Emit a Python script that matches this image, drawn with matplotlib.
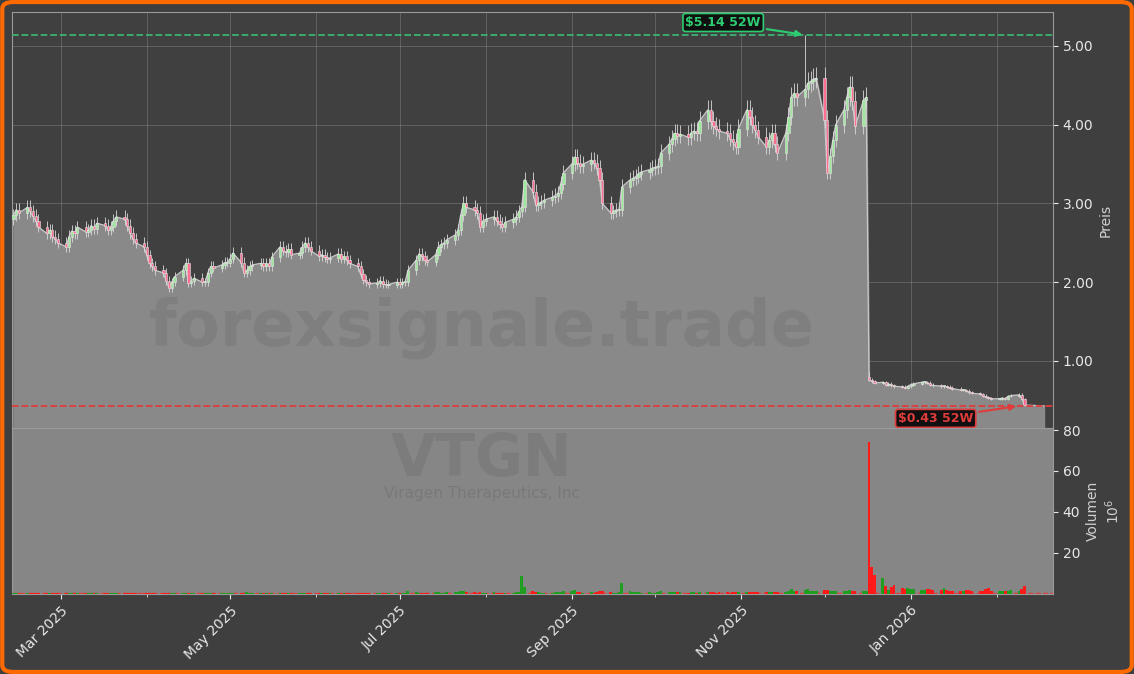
import numpy as np
import pandas as pd
import matplotlib
matplotlib.use("Agg")
import matplotlib.pyplot as plt
import matplotlib.dates as mdates
from matplotlib.patches import FancyBboxPatch

# Tagesschlusskurse (Geschäftstage ab 12.02.2025)
closes = [
    2.85, 2.92, 2.88, 2.95, 2.90, 2.84, 2.78, 2.70, 2.62, 2.66,
    2.58, 2.55, 2.50, 2.45, 2.58, 2.65, 2.62, 2.70, 2.64, 2.66,
    2.72, 2.68, 2.75, 2.72, 2.66, 2.70, 2.78, 2.83, 2.80, 2.72,
    2.62, 2.55, 2.50, 2.45, 2.34, 2.24, 2.20, 2.15, 2.12, 2.02,
    1.93, 2.00, 2.07, 2.15, 2.24, 1.99, 2.02, 2.05, 2.00, 2.00,
    2.12, 2.20, 2.18, 2.22, 2.25, 2.25, 2.30, 2.37, 2.25, 2.12,
    2.15, 2.20, 2.22, 2.24, 2.20, 2.24, 2.20, 2.32, 2.45, 2.40,
    2.38, 2.42, 2.35, 2.37, 2.45, 2.50, 2.45, 2.40, 2.33, 2.35,
    2.32, 2.30, 2.31, 2.36, 2.30, 2.33, 2.28, 2.24, 2.20, 2.10,
    2.03, 2.00, 1.98, 1.99, 2.02, 1.98, 1.97, 1.97, 2.00, 1.98,
    2.00, 2.00, 2.15, 2.28, 2.36, 2.33, 2.28, 2.26, 2.35, 2.45,
    2.48, 2.50, 2.54, 2.60, 2.66, 2.85, 3.00, 2.95, 2.92, 2.88,
    2.70, 2.78, 2.80, 2.83, 2.78, 2.74, 2.70, 2.76, 2.80, 2.83,
    2.90, 2.96, 3.30, 3.15, 2.98, 3.00, 3.02, 3.04, 3.08, 3.10,
    3.13, 3.25, 3.39, 3.50, 3.59, 3.52, 3.47, 3.50, 3.55, 3.52,
    3.45, 3.30, 3.00, 2.88, 2.90, 2.92, 2.92, 3.21, 3.30, 3.32,
    3.34, 3.38, 3.40, 3.43, 3.45, 3.46, 3.47, 3.64, 3.75, 3.82,
    3.89, 3.86, 3.88, 3.84, 3.90, 3.92, 3.89, 4.05, 4.19, 4.05,
    3.98, 3.95, 3.92, 3.89, 3.82, 3.78, 3.72, 3.95, 4.19, 4.10,
    4.00, 3.93, 3.85, 3.72, 3.80, 3.89, 3.75, 3.64, 3.89, 4.10,
    4.35, 4.40, 4.35, 4.45, 4.53, 4.55, 4.58, 4.59, 4.06, 3.39,
    3.60, 3.81, 4.00, 4.19, 4.35, 4.48, 4.30, 3.98, 4.31, 4.35,
    0.76, 0.74, 0.72, 0.73, 0.70, 0.71, 0.69, 0.68, 0.67, 0.66,
    0.68, 0.70, 0.71, 0.73, 0.73, 0.72, 0.70, 0.69, 0.68, 0.68,
    0.67, 0.66, 0.65, 0.63, 0.63, 0.62, 0.60, 0.59, 0.58, 0.56,
    0.54, 0.53, 0.52, 0.52, 0.53, 0.52, 0.55, 0.56, 0.57, 0.52,
    0.44,
]

# Volumen in Mio.
volumes = [
    0.4, 0.3, 0.5, 0.3, 0.4, 0.3, 0.2, 0.4, 0.3, 0.5,
    0.3, 0.4, 0.6, 0.3, 0.4, 0.3, 0.2, 0.3, 0.4, 0.3,
    0.3, 0.2, 0.3, 0.4, 0.3, 0.3, 0.4, 0.5, 0.3, 0.4,
    0.5, 0.4, 0.3, 0.6, 0.4, 0.5, 0.3, 0.4, 0.3, 0.5,
    0.6, 0.4, 0.3, 0.4, 0.5, 0.3, 0.4, 0.3, 0.3, 0.4,
    0.3, 0.4, 0.3, 0.3, 0.4, 0.3, 0.5, 0.6, 0.4, 0.3,
    0.7, 0.4, 0.3, 0.3, 0.4, 0.3, 0.4, 0.5, 0.6, 0.4,
    0.3, 0.4, 0.3, 0.3, 0.4, 0.5, 0.3, 0.4, 0.3, 0.3,
    0.4, 0.3, 0.3, 0.4, 0.3, 0.6, 0.4, 0.3, 0.5, 0.6,
    0.5, 0.4, 0.3, 0.4, 0.3, 0.3, 0.4, 0.3, 0.4, 0.5,
    0.4, 0.6, 1.5, 0.8, 0.5, 0.6, 0.4, 0.5, 0.7, 0.9,
    0.6, 0.5, 0.8, 0.9, 1.0, 1.2, 1.4, 0.8, 0.7, 0.6,
    0.9, 0.6, 0.5, 0.7, 0.5, 0.4, 0.6, 0.5, 0.6, 0.8,
    1.0, 8.5, 3.2, 1.2, 0.8, 0.7, 0.6, 0.5, 0.6, 0.7,
    0.8, 1.0, 1.4, 1.6, 1.8, 1.0, 0.7, 0.6, 0.7, 0.6,
    0.8, 1.2, 1.5, 0.9, 0.6, 0.5, 0.7, 5.2, 1.6, 0.9,
    0.8, 0.7, 0.6, 0.7, 0.6, 0.5, 0.7, 1.2, 1.1, 0.9,
    0.8, 0.7, 0.7, 0.6, 0.8, 0.7, 0.6, 0.9, 1.0, 0.8,
    0.7, 0.6, 0.7, 0.8, 0.6, 0.7, 0.8, 1.1, 1.0, 0.9,
    0.8, 0.7, 0.8, 0.9, 0.8, 0.7, 0.8, 0.9, 1.0, 1.2,
    2.5, 1.6, 1.4, 1.8, 2.2, 1.5, 1.2, 1.6, 1.8, 2.0,
    1.5, 1.4, 1.3, 1.6, 1.5, 1.9, 1.6, 1.3, 1.4, 1.6,
    74.0, 13.0, 9.0, 7.5, 4.0, 2.0, 3.5, 4.2, 3.0, 2.5,
    2.8, 2.2, 2.5, 2.0, 1.8, 2.2, 2.5, 2.0, 1.7, 2.6,
    1.8, 1.5, 1.6, 1.4, 1.5, 1.7, 2.0, 1.5, 1.4, 1.6,
    2.2, 2.6, 1.4, 1.3, 1.2, 1.5, 1.4, 1.8, 1.6, 2.4,
    4.0,
]

high_52w = 5.14
low_52w = 0.43
high_idx = 203
crash_idx = 220
crash_open = 0.80
ticker = "VTGN"
company = "Viragen Therapeutics, Inc"

dates = pd.bdate_range("2025-02-12", periods=len(closes))
c = np.array(closes)
o = np.concatenate([[2.80], c[:-1]])
o[crash_idx] = crash_open
hi = np.maximum(o, c) * 1.03
lo = np.minimum(o, c) * 0.975
hi[high_idx] = high_52w
hi[crash_idx] = 0.86
lo[-1] = low_52w
up = c >= o
vol_up = np.concatenate([[True], c[1:] >= c[:-1]])

BG = "#3f3f3f"
fig = plt.figure(figsize=(11.34, 6.74), dpi=100, facecolor=BG)
ax = fig.add_axes([0.0106, 0.365, 0.918, 0.617], facecolor="#404040")
axv = fig.add_axes([0.0106, 0.119, 0.918, 0.246], facecolor="#868686", sharex=ax)

dnum = mdates.date2num(dates)
fill_x = np.concatenate([dnum, [dnum[-1] + 7]])
fill_y = np.concatenate([c, [low_52w]])
ax.fill_between(fill_x, 0, fill_y, color="#898989", zorder=2)
ax.plot(fill_x, fill_y, color="#c8c8c8", lw=0.9, zorder=3)

ax.vlines(dnum, lo, hi, color="#d8d8d8", lw=0.6, zorder=4)
body_col = np.where(up, "#9be89b", "#ff6f91")
ax.bar(dnum, np.maximum(np.abs(c - o), 0.01), bottom=np.minimum(o, c), width=0.8,
       color=body_col, edgecolor="#e8e8e8", linewidth=0.4, zorder=5)

ax.axhline(high_52w, color="#3cb371", ls="--", lw=1.3, zorder=6)
ax.axhline(low_52w, color="#e03c3c", ls="--", lw=1.3, zorder=6)

ax.annotate(f"${high_52w:.2f} 52W", xy=(dnum[high_idx], high_52w),
            xytext=(-59, 9), textcoords="offset points", ha="center", va="center",
            color="#2ecc71", fontsize=9, fontweight="bold",
            bbox=dict(boxstyle="round,pad=0.2", fc="#101010", ec="#2ecc71", lw=1.2),
            arrowprops=dict(arrowstyle="-|>", color="#2ecc71", lw=1.5), zorder=8)
ax.annotate(f"${low_52w:.2f} 52W", xy=(dnum[-1] - 2, low_52w),
            xytext=(-60, -9), textcoords="offset points", ha="center", va="center",
            color="#e03c3c", fontsize=9, fontweight="bold",
            bbox=dict(boxstyle="round,pad=0.2", fc="#101010", ec="#e03c3c", lw=1.2),
            arrowprops=dict(arrowstyle="-|>", color="#e03c3c", lw=1.5), zorder=8)

# Volumen
vcol = np.where(vol_up, "#1f9e1f", "#ff1a1a")
axv.bar(dnum, volumes, width=1.0, color=vcol, zorder=3)
axv.axhline(0.3, color="#e03c3c", ls="--", lw=1.0, zorder=2)

# Wasserzeichen
fig.text(0.425, 0.513, "forexsignale.trade", ha="center", va="center",
         fontsize=46, fontweight="bold", color="#6e6e6e", alpha=0.35, zorder=10)
fig.text(0.425, 0.318, ticker, ha="center", va="center",
         fontsize=42, fontweight="bold", color="#707070", alpha=0.45, zorder=10)
fig.text(0.425, 0.268, company, ha="center", va="center",
         fontsize=11, color="#707070", alpha=0.6, zorder=10)

ax.set_ylim(0.149, 5.43)
ax.set_yticks([1, 2, 3, 4, 5])
ax.yaxis.set_major_formatter(matplotlib.ticker.FormatStrFormatter("%.2f"))
axv.set_ylim(0, 81)
axv.set_yticks([20, 40, 60, 80])
for a in (ax, axv):
    a.yaxis.tick_right()
    a.yaxis.set_label_position("right")
    a.tick_params(colors="#e8e8e8", labelsize=10)
    for s in a.spines.values():
        s.set_color("#9a9a9a")
ax.set_ylabel("Preis", color="#d0d0d0", fontsize=10)
axv.set_ylabel("Volumen\n$10^6$", color="#d0d0d0", fontsize=10)

ax.set_xlim(mdates.date2num(pd.Timestamp("2025-02-11 12:00")),
            mdates.date2num(pd.Timestamp("2026-02-21 06:00")))
axv.xaxis.set_major_locator(mdates.MonthLocator(bymonth=[1, 3, 5, 7, 9, 11]))
axv.xaxis.set_minor_locator(mdates.MonthLocator())
axv.xaxis.set_major_formatter(mdates.DateFormatter("%b %Y"))
plt.setp(ax.get_xticklabels(), visible=False)
ax.tick_params(axis="x", which="both", length=0)
plt.setp(axv.get_xticklabels(), rotation=45, ha="right", rotation_mode="anchor")
axv.tick_params(axis="x", which="minor", colors="#e8e8e8")

ax.grid(True, which="both", color="#8a8a8a", alpha=0.45, lw=0.7, zorder=0)
ax.set_axisbelow(True)

fig.patches.append(FancyBboxPatch((0.002, 0.003), 0.996, 0.994,
                                  boxstyle="round,pad=0,rounding_size=0.01",
                                  transform=fig.transFigure, fc="none",
                                  ec="#ff6a00", lw=3))

fig.savefig("out.png", dpi=100, facecolor=BG)
